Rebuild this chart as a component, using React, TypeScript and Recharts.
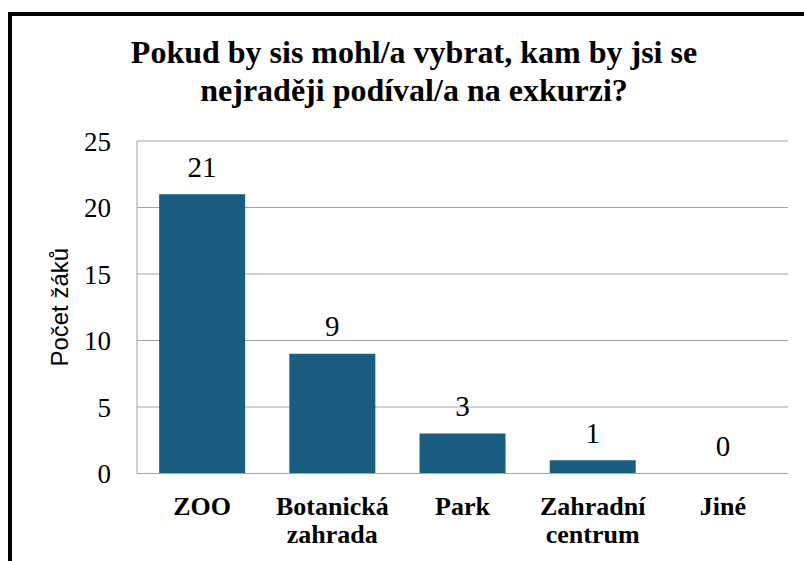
import { ComposedChart, Bar, Line, XAxis, YAxis, CartesianGrid, LabelList } from "recharts";

const categories = ["ZOO", "Botanická\nzahrada", "Park", "Zahradní\ncentrum", "Jiné"];
const pocty = [21, 9, 3, 1, 0];
const yTicks = [0, 5, 10, 15, 20, 25];

const TITLE = ["Pokud by sis mohl/a vybrat, kam by jsi se", "nejraději podíval/a na exkurzi?"];
const BAR_COLOR = "#195e80";
const SERIF = '"Liberation Serif", "Times New Roman", Times, serif';
const SANS = '"Liberation Sans", Arial, sans-serif';

const data = categories.map((kategorie, i) => ({ kategorie, pocet: pocty[i] }));

function CategoryTick(props: any) {
  const { x, y, payload } = props;
  const lines = String(payload.value).split("\n");
  return (
    <text
      x={x}
      y={y + 41}
      textAnchor="middle"
      fontFamily={SERIF}
      fontWeight="bold"
      fontSize={26}
      fill="#000"
    >
      {lines.map((line, i) => (
        <tspan key={line} x={x} dy={i === 0 ? 0 : 28.5}>
          {line}
        </tspan>
      ))}
    </text>
  );
}

export default function App() {
  return (
    <div
      style={{
        position: "absolute",
        left: 0,
        top: 0,
        width: 804,
        height: 561,
        overflow: "hidden",
        background: "#fff",
      }}
    >
      <div
        style={{
          position: "absolute",
          left: 8,
          top: 12,
          width: 900,
          height: 700,
          border: "4px solid #000",
        }}
      />
      <div
        style={{
          position: "absolute",
          left: 14,
          top: 33,
          width: 800,
          textAlign: "center",
          fontFamily: SERIF,
          fontWeight: "bold",
          fontSize: 32,
          lineHeight: "38px",
          color: "#000",
        }}
      >
        {TITLE.map((t) => (
          <div key={t}>{t}</div>
        ))}
      </div>
      <div style={{ position: "absolute", left: 0, top: 0 }}>
        <ComposedChart
          width={804}
          height={561}
          data={data}
          margin={{ top: 141, right: 16, bottom: 7.5, left: 77 }}
          barCategoryGap="17%"
        >
          <CartesianGrid vertical={false} stroke="#a3a3a3" />
          <XAxis
            dataKey="kategorie"
            height={80}
            tickLine={false}
            tickSize={0}
            tickMargin={0}
            stroke="#a3a3a3"
            interval={0}
            tick={<CategoryTick />}
          />
          <YAxis
            width={60}
            domain={[0, 25]}
            ticks={yTicks}
            tickLine={false}
            tickSize={0}
            tickMargin={26}
            stroke="#a3a3a3"
            tick={{ fontFamily: SERIF, fontSize: 27, fill: "#000" }}
            label={{
              value: "Počet žáků",
              angle: -90,
              position: "insideLeft",
              offset: -18,
              style: { fontFamily: SANS, fontSize: 24, fill: "#000", textAnchor: "middle" },
            }}
          />
          <Bar dataKey="pocet" fill={BAR_COLOR} isAnimationActive={false} />
          {/* invisible line only carries the value labels, so the 0 bar gets one too */}
          <Line
            dataKey="pocet"
            stroke="none"
            dot={false}
            activeDot={false}
            legendType="none"
            isAnimationActive={false}
          >
            <LabelList
              dataKey="pocet"
              position="top"
              offset={17.5}
              style={{ fontFamily: SERIF, fontSize: 29, fill: "#000" }}
            />
          </Line>
        </ComposedChart>
      </div>
    </div>
  );
}
